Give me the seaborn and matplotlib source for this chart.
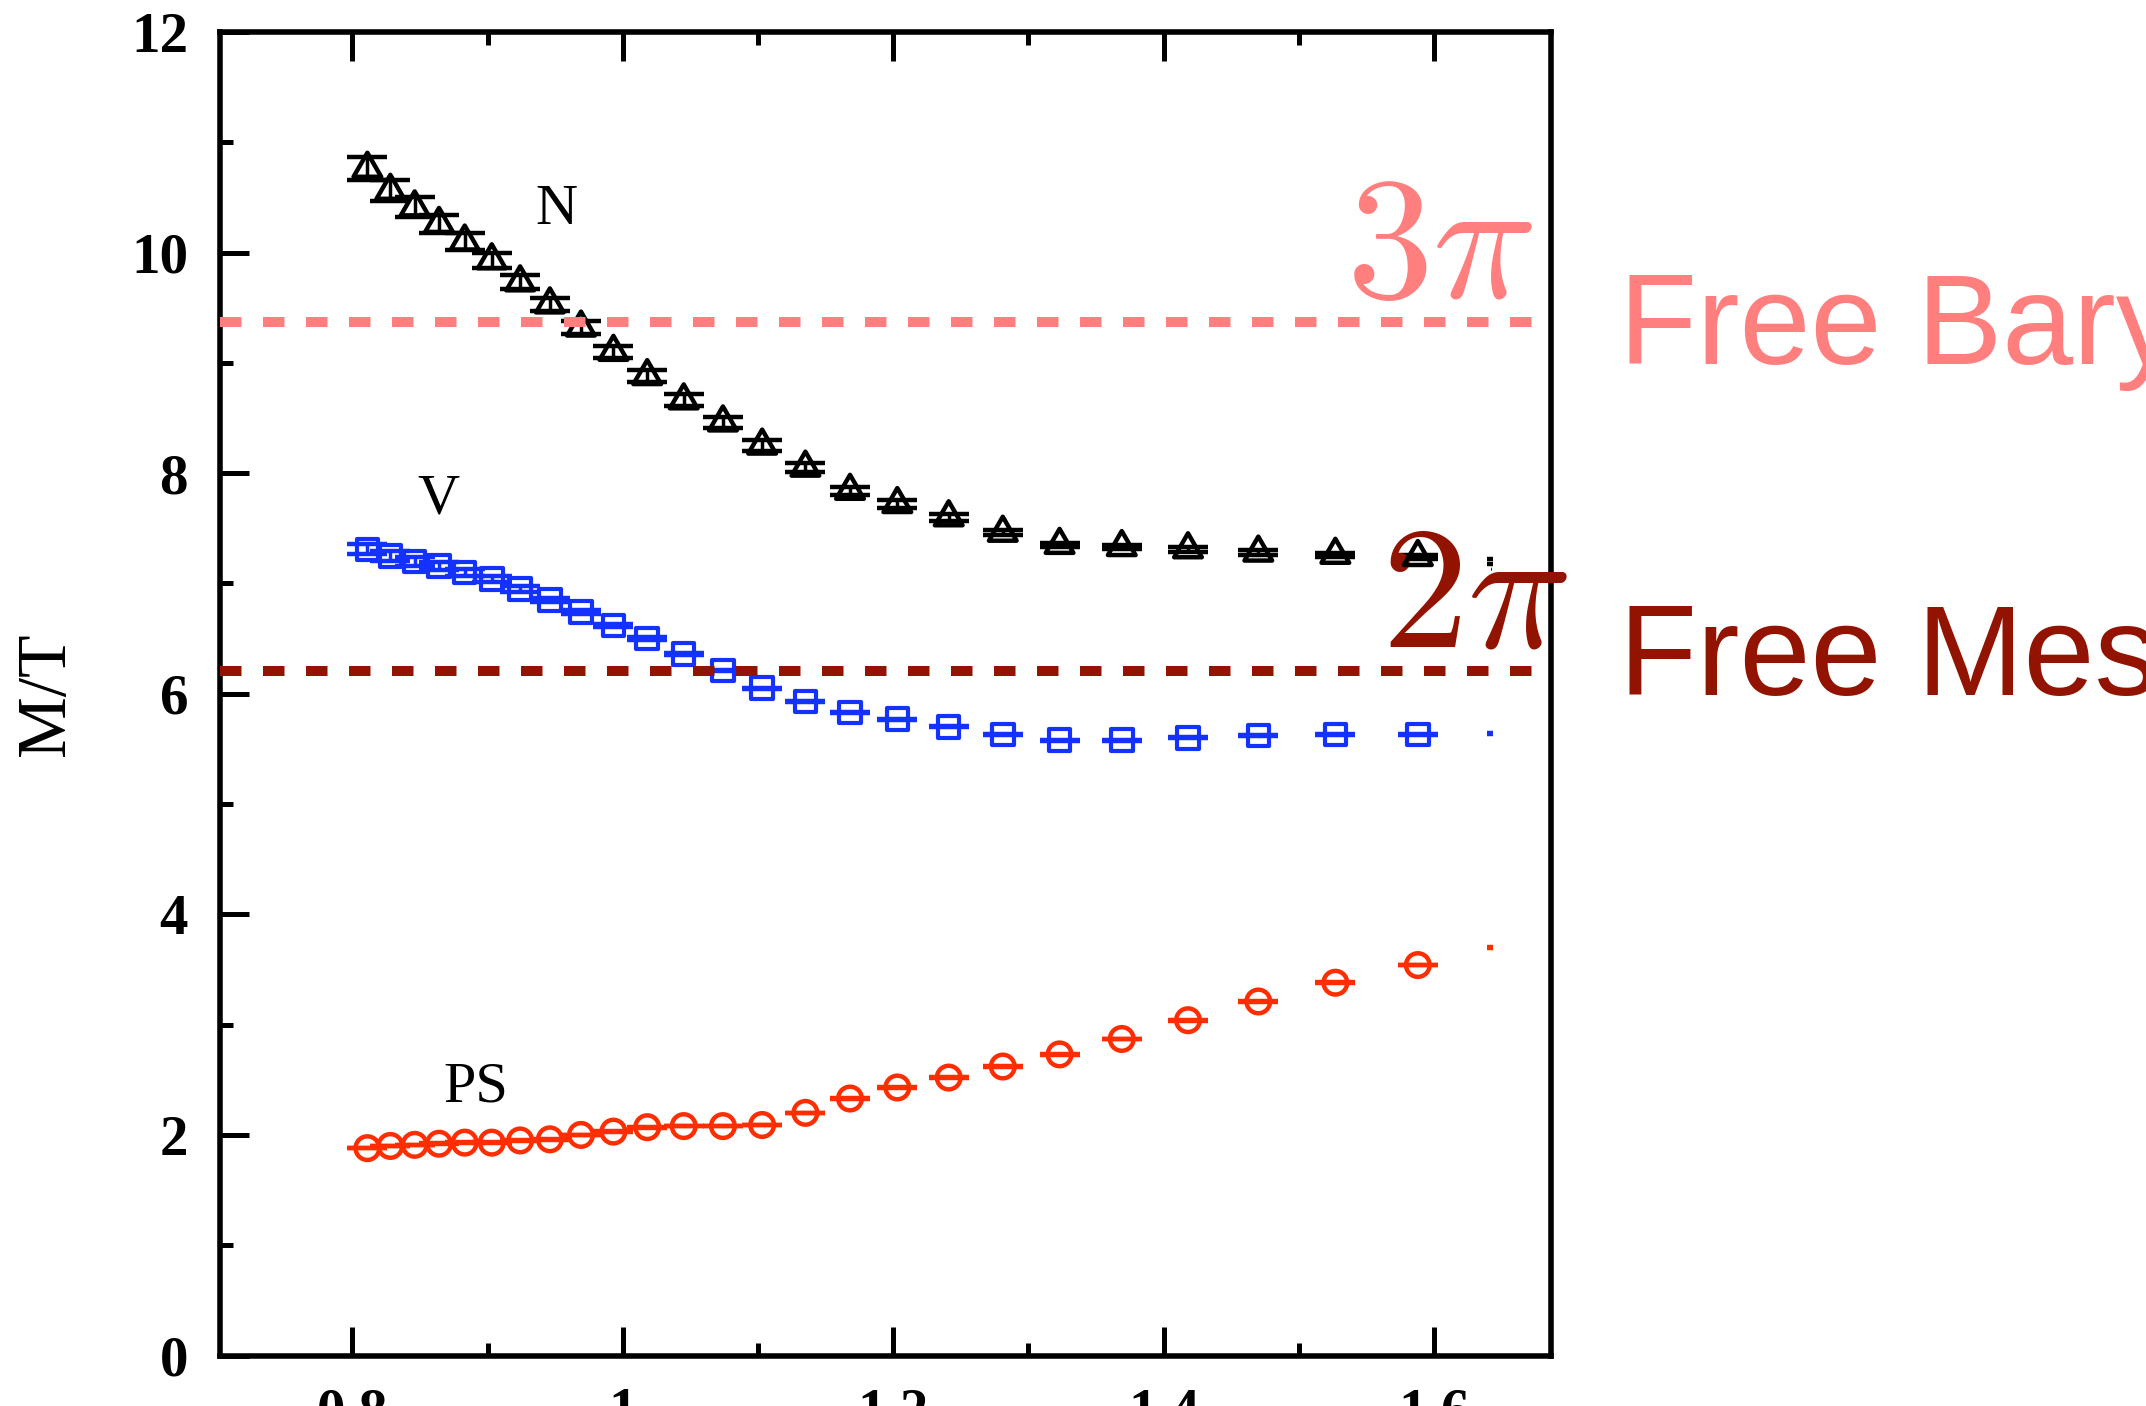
import matplotlib
matplotlib.use("Agg")
import matplotlib.pyplot as plt
from matplotlib.path import Path
from matplotlib.patches import Rectangle
from matplotlib.ticker import MultipleLocator, FuncFormatter
import seaborn as sns

# temperature axis (T/Tc), shared by the three channels
t_ratio = [0.811, 0.828, 0.846, 0.864, 0.883, 0.903, 0.924, 0.946, 0.969, 0.993,
           1.018, 1.045, 1.074, 1.103, 1.135, 1.168, 1.203, 1.241, 1.281, 1.323,
           1.369, 1.418, 1.470, 1.527, 1.588, 1.654]

# nucleon (N)
nucleon = [10.76, 10.56, 10.41, 10.26, 10.10, 9.93, 9.73, 9.53, 9.32, 9.10,
           8.88, 8.66, 8.46, 8.25, 8.05, 7.84, 7.72, 7.60, 7.46, 7.35,
           7.33, 7.31, 7.28, 7.26, 7.24, 7.20]
nucleon_err = [0.106, 0.094, 0.091, 0.083, 0.077, 0.068, 0.063, 0.060, 0.057, 0.057,
               0.056, 0.054, 0.053, 0.052, 0.039, 0.036, 0.033, 0.033, 0.021, 0.021,
               0.022, 0.022, 0.020, 0.020, 0.020, 0.020]

# vector meson (V)
vector = [7.31, 7.25, 7.20, 7.16, 7.10, 7.04, 6.95, 6.85, 6.74, 6.62,
          6.50, 6.36, 6.21, 6.05, 5.93, 5.83, 5.77, 5.70, 5.63, 5.58,
          5.58, 5.60, 5.62, 5.63, 5.63, 5.64]
vector_err = [0.045, 0.042, 0.040, 0.038, 0.035, 0.030, 0.026, 0.022, 0.018, 0.015,
              0.012, 0.010, 0.008, 0.006, 0.005, 0.005, 0.005, 0.005, 0.005, 0.005,
              0.005, 0.005, 0.005, 0.005, 0.005, 0.005]

# pseudoscalar (PS)
pseudo = [1.88, 1.90, 1.91, 1.92, 1.93, 1.93, 1.95, 1.96, 2.00, 2.03,
          2.07, 2.08, 2.08, 2.09, 2.20, 2.33, 2.43, 2.52, 2.62, 2.73,
          2.87, 3.04, 3.21, 3.38, 3.54, 3.70]
pseudo_err = [0.003, 0.003, 0.003, 0.003, 0.003, 0.003, 0.003, 0.003, 0.003, 0.003,
              0.003, 0.003, 0.003, 0.003, 0.003, 0.003, 0.003, 0.003, 0.003, 0.003,
              0.003, 0.003, 0.003, 0.003, 0.003, 0.003]

# free-field limits
free_baryon = 9.375
free_meson = 6.21

salmon = "#ff7f7f"
darkred = "#921300"

sns.set_style("ticks")
plt.rcParams["font.family"] = ["Liberation Serif", "DejaVu Serif"]
plt.rcParams["mathtext.fontset"] = "cm"
plt.rcParams["text.color"] = "black"
plt.rcParams["xtick.color"] = "black"
plt.rcParams["ytick.color"] = "black"
plt.rcParams["xtick.labelcolor"] = "black"
plt.rcParams["ytick.labelcolor"] = "black"

W, H = 2146, 1406
fig = plt.figure(figsize=(W / 100, H / 100), dpi=100)
ax = fig.add_axes([220 / W, (H - 1355.5) / H, (1551 - 220) / W, (1355.5 - 32) / H])

# triangle centred on its centroid
tri = Path([(0, 2 / 3), (-0.577, -1 / 3), (0.577, -1 / 3), (0, 2 / 3)],
           [Path.MOVETO, Path.LINETO, Path.LINETO, Path.CLOSEPOLY])

ax.set_xlim(0.702, 1.6865)
ax.set_ylim(0, 12)

# the last column of points is cut off by the original frame
clip = Rectangle((0.70, -1), 1.6428 - 0.70, 14, transform=ax.transData)

series = [
    (nucleon, nucleon_err, "black", tri, 529, 3.2),
    (vector, vector_err, "#1432ff", "s", 240, 3.0),
    (pseudo, pseudo_err, "#ff2d00", "o", 289, 3.2),
]
for vals, errs, col, mk, size, lw in series:
    eb = ax.errorbar(t_ratio, vals, yerr=errs, fmt="none", ecolor=col,
                     elinewidth=2.5, capsize=14.5, capthick=3.2, zorder=3)
    sns.scatterplot(x=t_ratio, y=vals, marker=mk, s=size, color=col,
                    facecolor="none", edgecolor=col, linewidth=lw, ax=ax, zorder=4)
    for art in list(eb.lines[1]) + list(eb.lines[2]) + [ax.collections[-1]]:
        art.set_clip_path(clip)

ax.axhline(free_baryon, color=salmon, lw=7.2, ls=(0, (2.15, 2.15)), zorder=5)
ax.axhline(free_meson, color=darkred, lw=7.2, ls=(0, (2.15, 2.15)), zorder=5)

ax.xaxis.set_major_locator(MultipleLocator(0.2))
ax.xaxis.set_minor_locator(MultipleLocator(0.1))
ax.yaxis.set_major_locator(MultipleLocator(2))
ax.yaxis.set_minor_locator(MultipleLocator(1))
ax.xaxis.set_major_formatter(FuncFormatter(lambda v, p: f"{v:g}"))
ax.yaxis.set_major_formatter(FuncFormatter(lambda v, p: f"{v:g}"))

ax.tick_params(axis="both", which="both", direction="in", color="black", labelcolor="black")
ax.tick_params(axis="x", which="both", top=True, bottom=True)
ax.tick_params(axis="y", which="both", left=True, right=False)
ax.tick_params(which="major", length=21, width=3.6, labelsize=41, pad=23)
ax.tick_params(which="minor", length=9.5, width=3.6)
plt.setp(ax.get_xticklabels() + ax.get_yticklabels(), fontweight="bold")
for sp in ax.spines.values():
    sp.set_linewidth(4)
    sp.set_color("black")

# channel labels
ax.text(0.935, 10.26, "N", fontsize=42, color="black", ha="left", va="baseline")
ax.text(0.848, 7.63, "V", fontsize=42, color="black", ha="left", va="baseline")
ax.text(0.867, 2.30, "PS", fontsize=42, color="black", ha="left", va="baseline")

ax.text(1.535, 9.60, r"$3\pi$", fontsize=125, color=salmon, ha="left", va="baseline")
ax.text(1.561, 6.43, r"$2\pi$", fontsize=125, color=darkred, ha="left", va="baseline")

fig.text(1619 / W, (H - 364) / H, "Free Baryons", fontsize=92, color=salmon,
         family=["Liberation Sans", "DejaVu Sans"], ha="left", va="baseline")
fig.text(1619 / W, (H - 695) / H, "Free Mesons", fontsize=92, color=darkred,
         family=["Liberation Sans", "DejaVu Sans"], ha="left", va="baseline")

fig.text(64 / W, (H - 694) / H, "M/T", fontsize=50, rotation=90, color="black",
         rotation_mode="anchor", ha="center", va="baseline")

fig.savefig("out.png", dpi=100)
